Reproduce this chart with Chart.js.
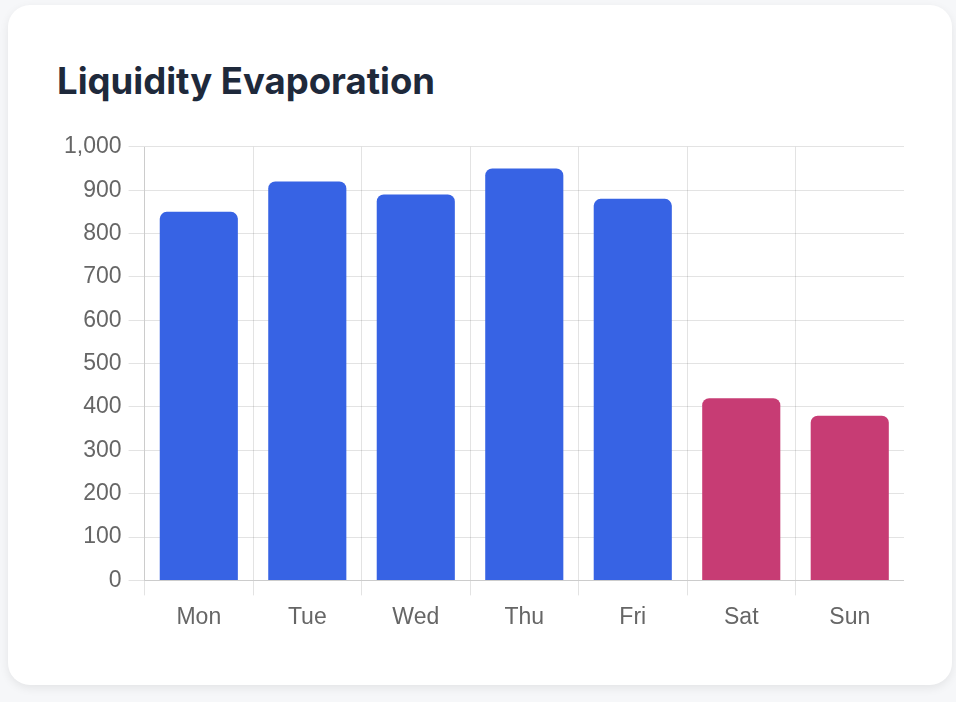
<!DOCTYPE html>
<html>
<head>
<meta charset="utf-8">
<script src="https://cdn.jsdelivr.net/npm/chart.js@4.4.1/dist/chart.umd.min.js"></script>
<style>
  html, body { margin: 0; padding: 0; }
  body { background: #f6f7f9; width: 956px; height: 702px; position: relative; overflow: hidden; }
  .card {
    position: absolute; left: 8px; top: 5px; width: 944px; height: 680px;
    box-sizing: border-box; padding: 48px;
    background: #fff; border-radius: 22px;
    box-shadow: 0 3px 10px rgba(0, 0, 0, 0.08);
  }
  h2 {
    margin: 0 0 0 1px; font-family: Inter, sans-serif; font-weight: 700;
    font-size: 36.5px; line-height: 56px; color: #1e293b;
  }
  .wrap { position: relative; height: 513px; margin-top: 17px; }
</style>
</head>
<body>
<div class="card">
  <h2>Liquidity Evaporation</h2>
  <div class="wrap"><canvas id="chart"></canvas></div>
</div>
<script>
const days = ['Mon', 'Tue', 'Wed', 'Thu', 'Fri', 'Sat', 'Sun'];
const volumes = [850, 920, 890, 950, 880, 420, 380];
const weekdayColor = '#3763e4';
const weekendColor = '#c73c74';

const barColors = days.map(d => (d === 'Sat' || d === 'Sun') ? weekendColor : weekdayColor);

new Chart(document.getElementById('chart'), {
    type: 'bar',
    data: {
        labels: days,
        datasets: [{
            label: 'Liquidity',
            data: volumes,
            backgroundColor: barColors,
            borderRadius: 7,
            borderSkipped: 'bottom'
        }]
    },
    options: {
        responsive: true,
        maintainAspectRatio: false,
        animation: false,
        layout: { padding: { left: 1 } },
        plugins: {
            legend: { display: false },
            tooltip: { enabled: false }
        },
        scales: {
            x: {
                grid: { tickLength: 15, color: 'rgba(0,0,0,0.11)' },
                ticks: { color: '#666', font: { family: 'Helvetica, Arial, sans-serif', size: 23 }, padding: 8 }
            },
            y: {
                min: 0,
                max: 1000,
                grid: { tickLength: 16, color: 'rgba(0,0,0,0.11)' },
                ticks: { stepSize: 100, color: '#666', font: { family: 'Helvetica, Arial, sans-serif', size: 23 }, padding: 7 }
            }
        }
    }
});
</script>
</body>
</html>
